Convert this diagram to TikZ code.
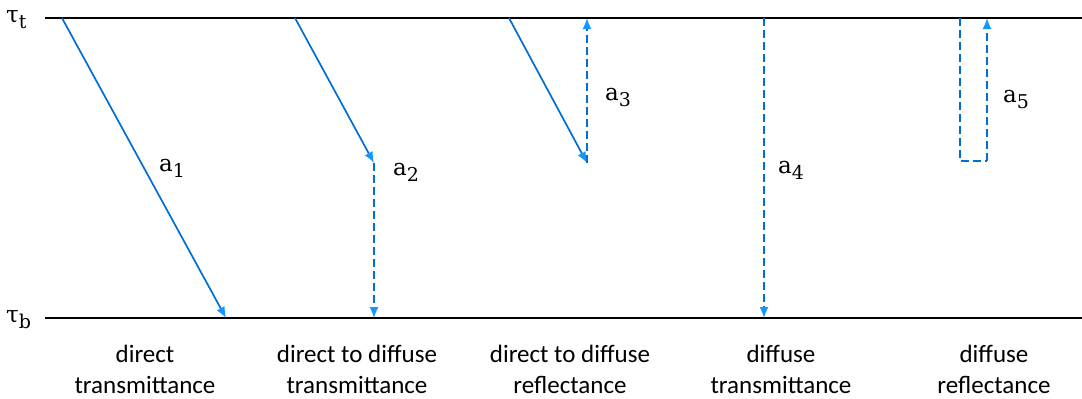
\documentclass[tikz,border=0pt]{standalone}
\usepackage{fontspec}
\setmainfont{Carlito}
\newfontfamily\labserif{DejaVu Serif}
\usetikzlibrary{arrows.meta}
\definecolor{lineblue}{RGB}{0,110,210}
\definecolor{tipblue}{RGB}{20,150,255}
\newcommand{\sublab}[2]{{\labserif\fontsize{23}{24}\selectfont #1\raisebox{-6pt}{\fontsize{19}{20}\selectfont #2}}}
\tikzset{
  level/.style={line width=2pt,black},
  ray/.style={line width=1.7pt,lineblue,-{Latex[length=11pt,width=9pt,color=tipblue]}},
  diff/.style={ray,dash pattern=on 8pt off 4pt},
  diffnotip/.style={line width=1.7pt,lineblue,dash pattern=on 8pt off 4pt},
  lab/.style={inner sep=0pt},
  captext/.style={align=center,inner sep=0pt,font=\fontsize{25}{31}\selectfont}
}
\begin{document}
\begin{tikzpicture}[x=1pt,y=-1pt]
\useasboundingbox (0,0) rectangle (1082,399);
% levels
\coordinate (tl) at (45,18); \coordinate (tr) at (1082,18);
\coordinate (bl) at (45,318); \coordinate (br) at (1082,318);
\draw[level] (tl) -- (tr);
\draw[level] (bl) -- (br);
\node[lab,anchor=west] (taut) at (6,20) {\sublab{τ}{t}};
\node[lab,anchor=west] (taub) at (6,320) {\sublab{τ}{b}};
% a1
\coordinate (a1s) at (62,18); \coordinate (a1e) at (226,318);
\draw[ray] (a1s) -- (a1e);
\node[lab] (l1) at (172,168) {\sublab{a}{1}};
% a2
\coordinate (a2s) at (295,18); \coordinate (a2m) at (374,163); \coordinate (a2e) at (374,318);
\draw[ray] (a2s) -- (a2m);
\draw[diff] (a2m) -- (a2e);
\node[lab] (l2) at (406,172) {\sublab{a}{2}};
% a3
\coordinate (a3s) at (509,18); \coordinate (a3m) at (587,163); \coordinate (a3e) at (587,18);
\draw[ray] (a3s) -- (a3m);
\draw[diff] (a3m) -- (a3e);
\node[lab] (l3) at (618,98) {\sublab{a}{3}};
% a4
\coordinate (a4s) at (764,18); \coordinate (a4e) at (764,318);
\draw[diff] (a4s) -- (a4e);
\node[lab] (l4) at (791,170) {\sublab{a}{4}};
% a5
\coordinate (a5s) at (960,18); \coordinate (a5b) at (960,161);
\coordinate (a5c) at (987,161); \coordinate (a5e) at (987,18);
\draw[diffnotip] (a5s) -- (a5b) -- (a5c);
\draw[diff] (a5c) -- (a5e);
\node[lab] (l5) at (1016,100) {\sublab{a}{5}};
% captions
\node[captext] (c1) at (145,369) {direct\\transmittance};
\node[captext] (c2) at (357,369) {direct to diffuse\\transmittance};
\node[captext] (c3) at (570,369) {direct to diffuse\\reflectance};
\node[captext] (c4) at (781,369) {diffuse\\transmittance};
\node[captext] (c5) at (994,369) {diffuse\\reflectance};
\end{tikzpicture}
\end{document}
